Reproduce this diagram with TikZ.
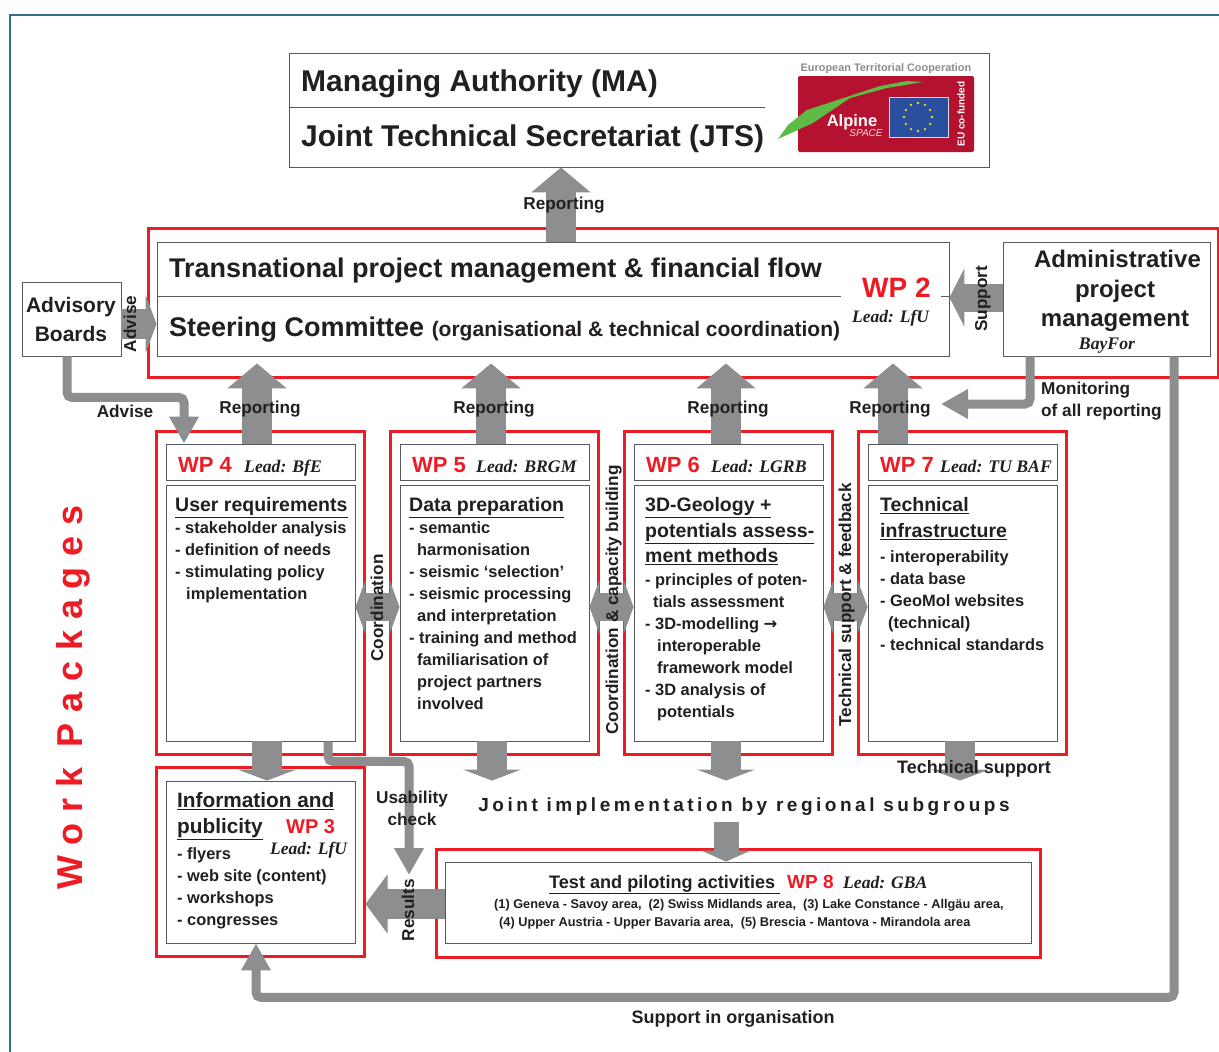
\documentclass[tikz,border=0pt]{standalone}
\usepackage{fontspec}
\usetikzlibrary{arrows.meta}
\setmainfont{Liberation Sans}
\newfontfamily\leadfont{Liberation Serif}
\newfontfamily\symfont{DejaVu Sans}
\newcommand{\fsz}[2]{\fontsize{#1}{#2}\selectfont}
\definecolor{ink}{HTML}{231F20}
\definecolor{wpred}{HTML}{ED1C24}
\definecolor{arrowgray}{HTML}{8C8E90}
\definecolor{boxgray}{HTML}{58595B}
\definecolor{teal}{HTML}{35708A}
\definecolor{eublue}{HTML}{2A4F9E}
\definecolor{alpred}{HTML}{B5122F}
\definecolor{alpgreen}{HTML}{5DBB46}

\begin{document}
\begin{tikzpicture}[x=1pt,y=-1pt,node distance=234pt,
	frame/.style = {draw=wpred, line width=3pt, minimum width=208pt, minimum height=323pt, inner sep=0},
	main/.style = {draw=boxgray, fill=white, line width=0.9pt, minimum width=189pt, inner sep=0},
	head/.style = {main, minimum height=36pt},
	body/.style = {main, minimum height=256pt},
	lbl/.style = {text=ink, inner sep=0, font=\bfseries\fsz{17.2}{22}, anchor=base},
	vlbl/.style = {lbl, rotate=90},
	titl/.style = {text=ink, inner sep=0, anchor=north west, align=left, font=\bfseries\fsz{19.5}{25.5}},
	items/.style = {text=ink, inner sep=0, anchor=north west, align=left, font=\bfseries\fsz{16.4}{22}},
	wp/.style = {text=wpred, inner sep=0, anchor=base west, font=\bfseries\fsz{22}{24}},
	leadby/.style = {text=ink, inner sep=0, anchor=base west, font=\leadfont\bfseries\itshape\fsz{17.7}{20}},
	big/.style = {text=ink, inner sep=0, anchor=base west, font=\bfseries\fsz{27}{34}},
	fat/.style = {draw=arrowgray, line width=30pt, -{Triangle[length=11pt,width=58pt]}},
	fatlong/.style = {fat, -{Triangle[length=25pt,width=58pt]}},
	fatboth/.style = {draw=arrowgray, line width=28pt, {Triangle[length=10pt,width=54pt]}-{Triangle[length=10pt,width=54pt]}},
	thin/.style = {draw=arrowgray, line width=9pt, rounded corners=5pt, -{Triangle[length=27pt,width=28pt]}}]
	\useasboundingbox (0,0) rectangle (1219,1052);
	\draw[teal, line width=1.8pt] (1219,15) -- (10,15) -- (10,1052);

	\node[frame, minimum width=1070pt, minimum height=149pt] (outer) at (683,302.5) {};
	\node[frame] (frame4) at (260,592.5) {};
	\node[frame, right of=frame4] (frame5) {};
	\node[frame, right of=frame5] (frame6) {};
	\node[frame, right of=frame6] (frame7) {};
	\node[frame, minimum height=189pt] (frame3) at (260,862) {};
	\node[frame, minimum width=604pt, minimum height=108pt] (frame8) at (738,903) {};

	\node[main, minimum width=700pt, minimum height=114pt] (ma) at (639,110) {};
	\node[main, minimum width=792pt, minimum height=114pt] (panel) at (553,299) {};
	\node[main, minimum width=99pt, minimum height=74pt] (adv) at (71.5,319) {};
	\node[main, minimum width=207pt, minimum height=114pt] (admin) at (1106.5,299) {};
	\node[head] (head4) at (260.5,462) {};
	\node[head, right of=head4] (head5) {};
	\node[head, right of=head5] (head6) {};
	\node[head, right of=head6] (head7) {};
	\node[body] (body4) at (260.5,613) {};
	\node[body, right of=body4] (body5) {};
	\node[body, right of=body5] (body6) {};
	\node[body, right of=body6] (body7) {};
	\node[main, minimum height=162pt] (info) at (260.5,862) {};
	\node[main, minimum width=586pt, minimum height=81pt] (test) at (738,902.5) {};
	\draw[boxgray, line width=0.9pt] ([yshift=3pt]ma.west) -- ++(476,0);
	\draw[boxgray, line width=0.9pt] ([yshift=3pt]panel.west) -- ++(684,0);
	\draw[boxgray, line width=0.9pt] ([yshift=3pt]panel.east) -- ++(-8,0);

	\fill[alpred, rounded corners=2pt] (798,76) rectangle (974,152);
	\fill[alpgreen] (923,82) -- (907,81) -- (880,86) -- (807,110) -- (788,125) -- (778,139) -- (813,123) -- (850,98) -- (887,88) -- cycle;
	\fill[eublue, draw=white!80!eublue] (889,97) rectangle (948,137);
	\foreach \a in {0,30,...,330}
		\fill[yellow!85!orange] (918,117) ++(\a:14) circle (1.3);
	\node[inner sep=0, text=black!45, font=\bfseries\fsz{10.9}{12}] (logotop) at (886,69) {European Territorial Cooperation};
	\node[inner sep=0, text=white, font=\bfseries\fsz{16.5}{20}] (logoalp) at (852,122) {Alpine};
	\node[inner sep=0, text=white!85!alpred, font=\itshape\fsz{10}{12}] (logospc) at (866,133) {SPACE};
	\node[inner sep=0, text=white, rotate=90, font=\bfseries\fsz{10}{12}] (logoeu) at (961,114) {EU co-funded};

	\draw[fatlong] ([xshift=8pt]panel.north) -- ([xshift=8pt]panel.north |- ma.south);
	\draw[fatlong, shorten >=7pt] ([xshift=-3.5pt]head4.north) -- ([xshift=-3.5pt]head4.north |- panel.south);
	\draw[fatlong, shorten >=7pt] ([xshift=-3.5pt]head5.north) -- ([xshift=-3.5pt]head5.north |- panel.south);
	\draw[fatlong, shorten >=7pt] ([xshift=-2.5pt]head6.north) -- ([xshift=-2.5pt]head6.north |- panel.south);
	\draw[fatlong, shorten >=7pt] ([xshift=-69.5pt]head7.north) -- ([xshift=-69.5pt]head7.north |- panel.south);
	\draw[fat] ([yshift=-5pt]adv.east) -- ([yshift=-5pt]adv.east -| panel.west);
	\draw[fat, -{Triangle[length=15pt,width=58pt]}, line width=28pt] ([yshift=1.5pt]admin.west) -- ([yshift=1.5pt]admin.west -| panel.east);
	\draw[fat] ([xshift=6.5pt]body4.south) -- ([xshift=6.5pt]body4.south |- info.north);
	\draw[fat] ([xshift=-2.5pt]body5.south) -- ([xshift=-2.5pt]body5.south |- info.north);
	\draw[fat] ([xshift=-2.5pt]body6.south) -- ([xshift=-2.5pt]body6.south |- info.north);
	\draw[fat] ([xshift=-2.5pt]body7.south) -- ([xshift=-2.5pt]body7.south |- info.north);
	\draw[fatlong, -{Triangle[length=22pt,width=58pt]}] ([yshift=-1.5pt]test.west) -- ([yshift=-1.5pt]test.west -| frame3.east);
	\coordinate (jointfoot) at (726,822);
	\draw[fat, line width=25pt, -{Triangle[length=11pt,width=49pt]}] (jointfoot) -- (jointfoot |- test.north);
	\draw[fatboth] ([yshift=6pt]body4.east) -- ([yshift=6pt]body5.west);
	\draw[fatboth] ([yshift=6pt]body5.east) -- ([yshift=6pt]body6.west);
	\draw[fatboth] ([yshift=6pt]body6.east) -- ([yshift=6pt]body7.west);
	\draw[thin] ([xshift=-4.5pt]adv.south) -- ++(0,41) -| ([xshift=-76.5pt]head4.north);
	\coordinate (montip) at (941,404);
	\draw[thin] ([xshift=-76.5pt]admin.south) |- (montip);
	\draw[thin] ([xshift=67.5pt]admin.south) -- ++(0,641) -| ([xshift=-4.5pt]info.south);
	\coordinate (usetip) at (409,875);
	\draw[thin] ([xshift=67.5pt]body4.south) -- ++(0,20) -| (usetip);

	\node[big, font=\bfseries\fsz{30}{36}] (matext) at (301,91) {Managing Authority (MA)};
	\node[big, font=\bfseries\fsz{30}{36}] (jtstext) at (301,146) {Joint Technical Secretariat (JTS)};
	\node[big] (panel1) at (169,277) {Transnational project management \& financial flow};
	\node[big] (panel2) at (169,336) {Steering Committee \fsz{21}{24}(organisational \& technical coordination)};
	\node[wp, font=\bfseries\fsz{28}{34}] (wp2) at (862,297) {WP 2};
	\node[leadby, font=\leadfont\bfseries\itshape\fsz{17.5}{22}] (lead2) at (852,322) {Lead: LfU};
	\node[inner sep=0, text=ink, align=center, font=\bfseries\fsz{21}{29}] (advtext) at (71,319) {Advisory\\Boards};
	\node[inner sep=0, text=ink, align=center, font=\bfseries\fsz{24}{29.5}] (admintext) at (1115,291) {\hspace*{5pt}Administrative\\project\hspace*{6pt}\\management};
	\node[leadby, anchor=base] (bayfor) at (1107,349) {BayFor};

	\node[wp] (wp4) at (178,472) {WP 4};
	\node[leadby] (lead4) at (244,472) {Lead: BfE};
	\node[wp] (wp5) at (412,472) {WP 5};
	\node[leadby] (lead5) at (476,472) {Lead: BRGM};
	\node[wp] (wp6) at (646,472) {WP 6};
	\node[leadby] (lead6) at (711,472) {Lead: LGRB};
	\node[wp] (wp7) at (880,472) {WP 7};
	\node[leadby] (lead7) at (940,472) {Lead: TU BAF};

	\node[titl] (title4) at (175,497.5) {\underline{User requirements}};
	\node[items] (items4) at (175,521) {- stakeholder analysis\\- definition of needs\\- stimulating policy\\\hspace*{11pt}implementation};
	\node[titl] (title5) at (409,497.5) {\underline{Data preparation}};
	\node[items] (items5) at (409,521) {- semantic\\\hspace*{8pt}harmonisation\\- seismic ‘selection’\\- seismic processing\\\hspace*{8pt}and interpretation\\- training and method\\\hspace*{8pt}familiarisation of\\\hspace*{8pt}project partners\\\hspace*{8pt}involved};
	\node[titl] (title6) at (645,497.5) {\underline{3D-Geology +}\\\underline{potentials assess-}\\\underline{ment methods}};
	\node[items] (items6) at (645,573) {- principles of poten-\\\hspace*{8pt}tials assessment\\- 3D-modelling {\symfont →}\\\hspace*{12pt}interoperable\\\hspace*{12pt}framework model\\- 3D analysis of\\\hspace*{12pt}potentials};
	\node[titl] (title7) at (880,497.5) {\underline{Technical}\\\underline{infrastructure}};
	\node[items] (items7) at (880,550) {- interoperability\\- data base\\- GeoMol websites\\\hspace*{8pt}(technical)\\- technical standards};
	\node[titl, font=\bfseries\fsz{20.8}{26}] (title3) at (177,792) {\underline{Information and}\\\underline{publicity}};
	\node[wp, font=\bfseries\fsz{20}{24}] (wp3) at (286,833) {WP 3};
	\node[leadby, font=\leadfont\bfseries\itshape\fsz{17.5}{22}] (lead3) at (270,854) {Lead: LfU};
	\node[items] (items3) at (177,847) {- flyers\\- web site (content)\\- workshops\\- congresses};

	\node[lbl, font=\bfseries\fsz{18.1}{22}, anchor=base west] (title8) at (549,888) {\underline{Test and piloting activities\ }};
	\node[wp, font=\bfseries\fsz{19}{24}] (wp8) at (787,888) {WP 8};
	\node[leadby, font=\leadfont\bfseries\itshape\fsz{17.6}{22}] (lead8) at (843,888) {Lead: GBA};
	\node[lbl, font=\bfseries\fsz{12.75}{18}, anchor=base west] (areas1) at (494,908) {(1) Geneva - Savoy area,\ \ (2) Swiss Midlands area,\ \ (3) Lake Constance - Allgäu area,};
	\node[lbl, font=\bfseries\fsz{12.75}{18}, anchor=base west] (areas2) at (499,926) {(4) Upper Austria - Upper Bavaria area,\ \ (5) Brescia - Mantova - Mirandola area};

	\node[lbl] (rep0) at (564,209) {Reporting};
	\node[lbl] (rep4) at (260,413) {Reporting};
	\node[lbl] (rep5) at (494,413) {Reporting};
	\node[lbl] (rep6) at (728,413) {Reporting};
	\node[lbl] (rep7) at (890,413) {Reporting};
	\node[lbl] (adv1) at (125,417) {Advise};
	\node[vlbl] (adv2) at (136,324) {Advise};
	\node[vlbl] (sup) at (987,299) {Support};
	\node[lbl, anchor=north west, align=left] (mon) at (1041,382) {Monitoring\\of all reporting};
	\node[vlbl] (coord1) at (383,608) {Coordination};
	\node[vlbl] (coord2) at (618,600) {Coordination \& capacity building};
	\node[vlbl] (techfb) at (851,605) {Technical support \& feedback};
	\node[lbl, anchor=north, align=center] (use) at (412,791) {Usability\\check};
	\node[lbl, font=\bfseries\fsz{18}{22}] (techsup) at (974,773) {Technical support};
	\node[vlbl] (res) at (414,910) {Results};
	\node[lbl, font=\bfseries\fsz{18}{22}] (org) at (733,1023) {Support in organisation};
	\node[lbl, font=\bfseries\addfontfeature{LetterSpace=18.5}\fsz{19}{22}] (joint) at (744,811) {Joint implementation by regional subgroups};
	\node[text=wpred, inner sep=0, rotate=90, anchor=base, font=\bfseries\addfontfeature{LetterSpace=30}\fsz{36}{40}] (wpk) at (82,697.5) {Work Packages};
\end{tikzpicture}
\end{document}
